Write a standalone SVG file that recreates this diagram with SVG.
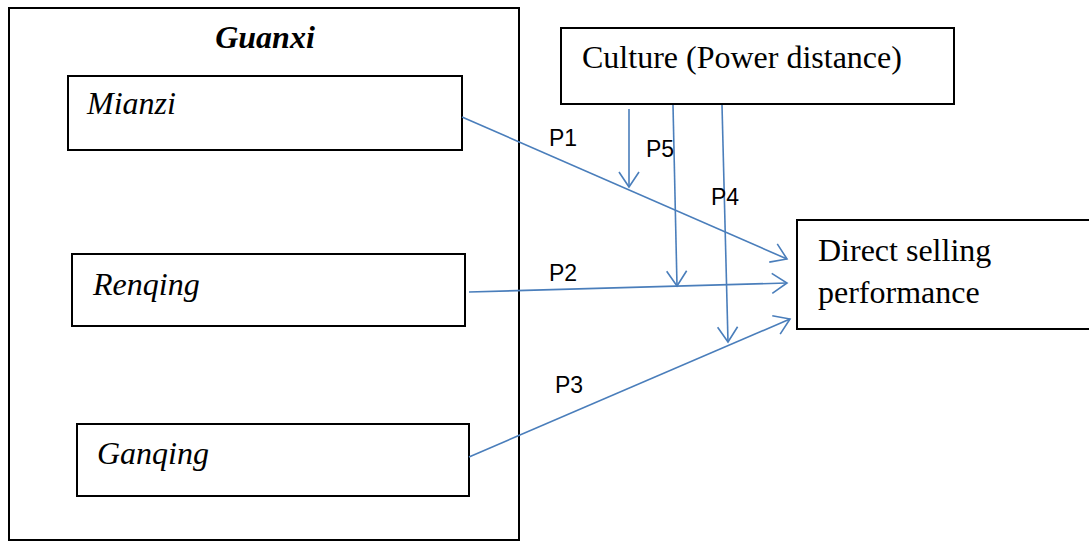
<svg xmlns="http://www.w3.org/2000/svg" width="1089" height="542" viewBox="0 0 1089 542">
<style>
.box{fill:#fff;stroke:#000;stroke-width:2}
.t{font-family:"Liberation Serif","Times New Roman",serif;font-size:32px;fill:#000}
.i{font-style:italic}
.b{font-weight:bold;font-size:32px}
.lab{font-family:"Liberation Sans",Arial,sans-serif;font-size:23px;fill:#000}
.c{fill:none;stroke:#4a7ebb;stroke-width:1.6}
</style>
<defs>
<marker id="arr" markerUnits="userSpaceOnUse" markerWidth="24" markerHeight="24" refX="17" refY="12" orient="auto" viewBox="0 0 24 24">
<path d="M2,2 L17,12 L2,22" fill="none" stroke="#4a7ebb" stroke-width="1.6"/>
</marker>
</defs>
<g id="guanxi">
<rect class="box" x="9" y="8" width="510" height="532"/>
<text class="t i b" x="265" y="48" text-anchor="middle">Guanxi</text>
</g>
<g id="mianzi">
<rect class="box" x="68" y="76" width="394" height="74"/>
<text class="t i" x="87" y="114">Mianzi</text>
</g>
<g id="renqing">
<rect class="box" x="72" y="254" width="393" height="72"/>
<text class="t i" x="93" y="295">Renqing</text>
</g>
<g id="ganqing">
<rect class="box" x="77" y="424" width="392" height="72"/>
<text class="t i" x="97" y="464">Ganqing</text>
</g>
<g id="culture">
<rect class="box" x="561" y="28" width="393" height="76"/>
<text class="t" x="582" y="68">Culture (Power distance)</text>
</g>
<g id="performance">
<rect class="box" x="797" y="220" width="300" height="109"/>
<text class="t" x="818" y="261">Direct selling</text>
<text class="t" x="818" y="303">performance</text>
</g>
<g id="connectors">
<line class="c" x1="462" y1="117" x2="787" y2="259" marker-end="url(#arr)"/>
<line class="c" x1="469" y1="292" x2="787" y2="283" marker-end="url(#arr)"/>
<line class="c" x1="469" y1="457" x2="790" y2="319" marker-end="url(#arr)"/>
<line class="c" x1="629" y1="109" x2="629" y2="187" marker-end="url(#arr)"/>
<line class="c" x1="673" y1="105" x2="677" y2="286" marker-end="url(#arr)"/>
<line class="c" x1="722" y1="105" x2="728" y2="342" marker-end="url(#arr)"/>
<text class="lab" x="549" y="146">P1</text>
<text class="lab" x="646" y="157">P5</text>
<text class="lab" x="711" y="205">P4</text>
<text class="lab" x="549" y="281">P2</text>
<text class="lab" x="555" y="393">P3</text>
</g>
</svg>
